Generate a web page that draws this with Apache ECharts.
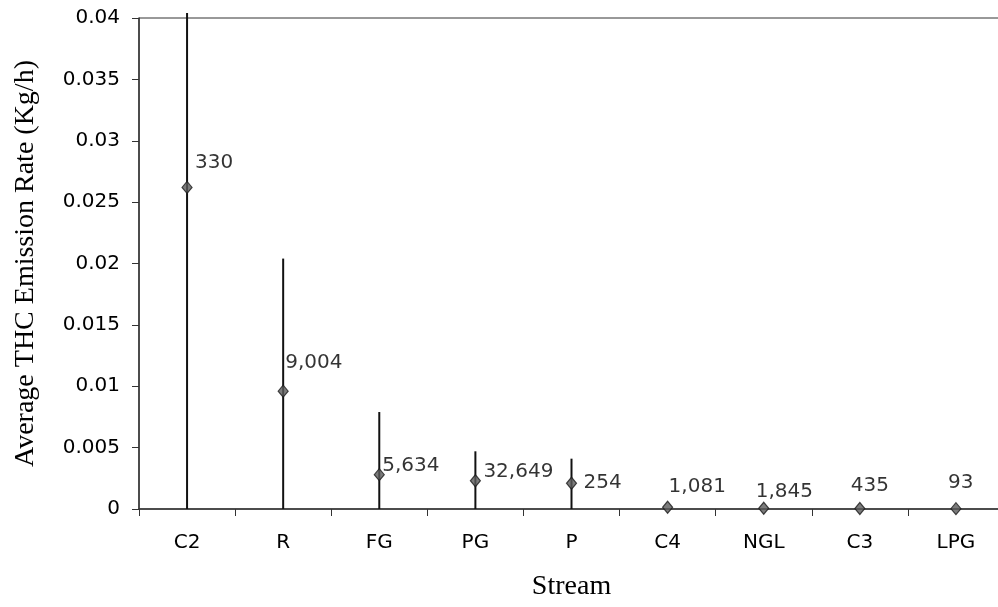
<!DOCTYPE html>
<html>
<head>
<meta charset="utf-8">
<script src="https://cdn.jsdelivr.net/npm/echarts@6/dist/echarts.min.js"></script>
<style>
  html, body { margin: 0; padding: 0; background: #fff; }
  #chart { width: 998px; height: 607px; }
</style>
</head>
<body>
<div id="chart"></div>
<script>
// ---- data ----
var categories = ['C2', 'R', 'FG', 'PG', 'P', 'C4', 'NGL', 'C3', 'LPG'];
var avgRate    = [0.0262, 0.0096, 0.0028, 0.0023, 0.0021, 0.00014, 0.00006, 0.00004, 0.00003];
var upperBar   = [0.0404, 0.0204, 0.0079, 0.0047, 0.0041, null, null, null, null];
var lowerBar   = [0, 0, 0, 0, 0, null, null, null, null];
var sampleCount = ['330', '9,004', '5,634', '32,649', '254', '1,081', '1,845', '435', '93'];
var yTicks = { min: 0, max: 0.04, interval: 0.005 };

// label placement (pixel offsets from marker centre) – styling only
var labelOffsets = [[8, -25], [2, -28], [3, -9], [8, -9], [12, 0], [1, -20], [-8, -16], [-9, -23], [-8, -26]];

var chart = echarts.init(document.getElementById('chart'), null, { renderer: 'canvas' });

var errData = categories.map(function (c, i) {
  return upperBar[i] == null ? null : [i, lowerBar[i], upperBar[i]];
}).filter(function (d) { return d; });

var pointData = categories.map(function (c, i) {
  return {
    value: [i, avgRate[i]],
    label: { offset: labelOffsets[i] }
  };
});

var option = {
  backgroundColor: '#fff',
  animation: false,
  grid: {
    left: 139, top: 18, width: 865, bottom: 98,
    outerBoundsMode: 'none',
    containLabel: false,
    show: true, borderColor: '#333', borderWidth: 1, backgroundColor: 'transparent'
  },
  xAxis: {
    type: 'category',
    data: categories,
    boundaryGap: true,
    name: 'Stream',
    nameLocation: 'middle',
    nameGap: 64,
    nameTextStyle: { fontFamily: 'Liberation Serif', fontSize: 28, color: '#000' },
    axisLine: { show: true, onZero: false, lineStyle: { color: '#333', width: 1.5 } },
    axisTick: { show: true, inside: false, length: 7, alignWithLabel: false, lineStyle: { color: '#333' } },
    axisLabel: { margin: 24, fontFamily: 'DejaVu Sans', fontSize: 20, color: '#000' },
    splitLine: { show: false }
  },
  yAxis: {
    type: 'value',
    min: yTicks.min, max: yTicks.max, interval: yTicks.interval,
    name: 'Average THC Emission Rate (Kg/h)',
    nameLocation: 'middle',
    nameGap: 99,
    nameRotate: 90,
    nameTextStyle: { fontFamily: 'Liberation Serif', fontSize: 28, color: '#000' },
    axisLine: { show: true, lineStyle: { color: '#333', width: 1.5 } },
    axisTick: { show: true, inside: false, length: 7, lineStyle: { color: '#333' } },
    axisLabel: {
      margin: 19, fontFamily: 'DejaVu Sans', fontSize: 20, color: '#000',
      formatter: function (v) { return String(parseFloat(v.toFixed(4))); }
    },
    splitLine: { show: false }
  },
  series: [
    {
      type: 'custom',
      clip: false,
      data: errData,
      encode: { x: 0, y: [1, 2] },
      renderItem: function (params, api) {
        var x = api.value(0);
        var lo = api.coord([x, api.value(1)]);
        var hi = api.coord([x, api.value(2)]);
        return {
          type: 'line',
          shape: { x1: lo[0], y1: lo[1], x2: hi[0], y2: hi[1] },
          style: { stroke: '#111', lineWidth: 2 }
        };
      },
      z: 2
    },
    {
      type: 'scatter',
      data: pointData,
      symbol: 'diamond',
      symbolSize: [10, 12],
      itemStyle: { color: '#5a5a5a', borderColor: '#1a1a1a', borderWidth: 1.2 },
      label: {
        show: true,
        position: 'inside',
        align: 'left',
        verticalAlign: 'middle',
        fontFamily: 'DejaVu Sans',
        fontSize: 20,
        color: '#000',
        textBorderWidth: 0,
        formatter: function (p) { return sampleCount[p.dataIndex]; }
      },
      z: 3
    }
  ]
};

chart.setOption(option);
</script>
</body>
</html>
